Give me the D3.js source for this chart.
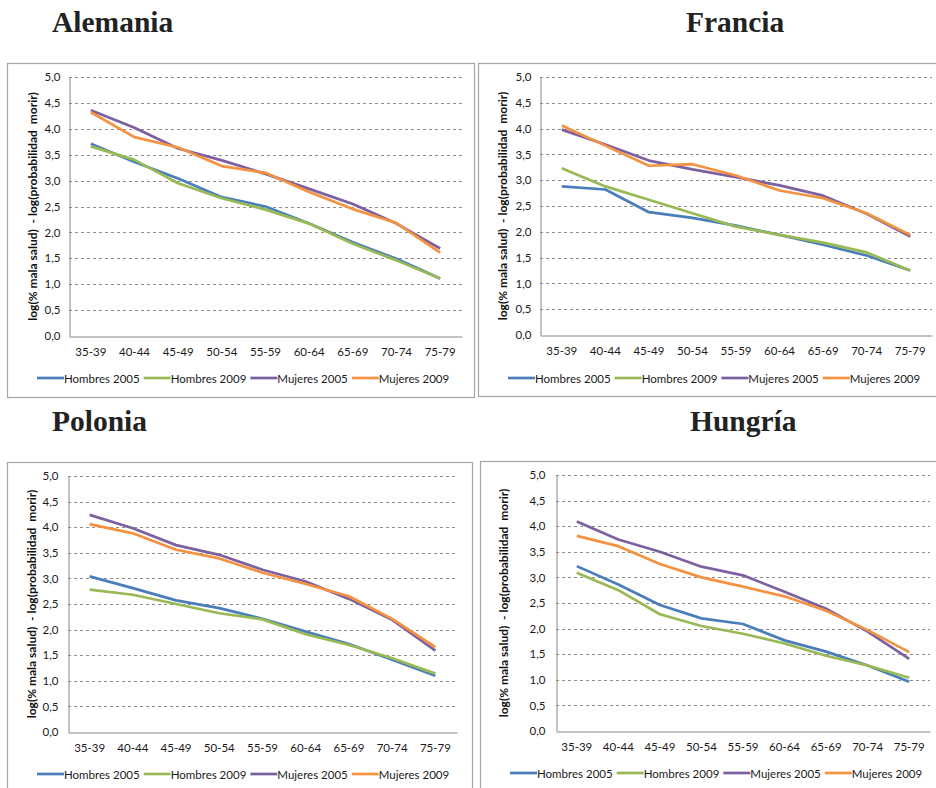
<!DOCTYPE html>
<html>
<head>
<meta charset="utf-8">
<script src="https://cdn.jsdelivr.net/npm/d3@7"></script>
<style>
  body { margin: 0; background: #fff; }
  svg { display: block; }
</style>
</head>
<body>
<svg id="chart" width="936" height="788"></svg>
<script>
// ---------------- DATA ----------------
const categories = ["35-39", "40-44", "45-49", "50-54", "55-59", "60-64", "65-69", "70-74", "75-79"];
const seriesNames = ["Hombres 2005", "Hombres 2009", "Mujeres 2005", "Mujeres 2009"];
const yTicks = [0, 0.5, 1, 1.5, 2, 2.5, 3, 3.5, 4, 4.5, 5];
const countries = ["Alemania", "Francia", "Polonia", "Hungría"];
const yAxisTitle = "log(% mala salud)  - log(probabilidad  morir)";

const alemaniaHombres2005 = [3.71, 3.36, 3.04, 2.68, 2.50, 2.17, 1.81, 1.49, 1.11];
const alemaniaHombres2009 = [3.66, 3.40, 2.95, 2.66, 2.44, 2.17, 1.78, 1.46, 1.11];
const alemaniaMujeres2005 = [4.36, 4.02, 3.62, 3.39, 3.13, 2.84, 2.55, 2.17, 1.69];
const alemaniaMujeres2009 = [4.32, 3.84, 3.64, 3.28, 3.15, 2.78, 2.45, 2.18, 1.61];

const franciaHombres2005 = [2.88, 2.82, 2.38, 2.27, 2.12, 1.94, 1.75, 1.54, 1.25];
const franciaHombres2009 = [3.23, 2.88, 2.62, 2.36, 2.10, 1.94, 1.79, 1.60, 1.25];
const franciaMujeres2005 = [3.98, 3.69, 3.38, 3.21, 3.06, 2.90, 2.70, 2.35, 1.91];
const franciaMujeres2009 = [4.06, 3.67, 3.28, 3.31, 3.09, 2.80, 2.65, 2.36, 1.94];

const poloniaHombres2005 = [3.04, 2.81, 2.57, 2.42, 2.21, 1.96, 1.72, 1.41, 1.10];
const poloniaHombres2009 = [2.78, 2.68, 2.50, 2.32, 2.20, 1.91, 1.70, 1.44, 1.14];
const poloniaMujeres2005 = [4.24, 3.98, 3.65, 3.46, 3.17, 2.94, 2.60, 2.19, 1.59];
const poloniaMujeres2009 = [4.06, 3.88, 3.56, 3.39, 3.11, 2.89, 2.65, 2.21, 1.66];

const hungriaHombres2005 = [3.22, 2.86, 2.46, 2.20, 2.09, 1.77, 1.55, 1.28, 0.96];
const hungriaHombres2009 = [3.09, 2.75, 2.28, 2.05, 1.90, 1.71, 1.47, 1.28, 1.04];
const hungriaMujeres2005 = [4.09, 3.74, 3.50, 3.21, 3.04, 2.72, 2.39, 1.94, 1.41];
const hungriaMujeres2009 = [3.81, 3.61, 3.26, 3.00, 2.82, 2.63, 2.35, 1.97, 1.54];

// ---------------- STYLE / LAYOUT ----------------
const colors = ["#4A7EBB", "#98B954", "#7D60A0", "#F59240"];
const countrySeries = [
  [alemaniaHombres2005, alemaniaHombres2009, alemaniaMujeres2005, alemaniaMujeres2009],
  [franciaHombres2005, franciaHombres2009, franciaMujeres2005, franciaMujeres2009],
  [poloniaHombres2005, poloniaHombres2009, poloniaMujeres2005, poloniaMujeres2009],
  [hungriaHombres2005, hungriaHombres2009, hungriaMujeres2005, hungriaMujeres2009]
];
const layouts = [
  {box: [7, 63, 467, 334], plot: [69, 462, 77, 336], tickX: 60, ylabX: 32, xlabY: 353, legY: 378, legX: 37, title: [52, 32]},
  {box: [478, 63, 460, 333], plot: [540, 932, 77, 335], tickX: 531, ylabX: 502, xlabY: 352, legY: 378, legX: 508, title: [686, 32]},
  {box: [7, 462, 465, 340], plot: [68, 457, 476, 732], tickX: 58, ylabX: 31, xlabY: 749, legY: 774, legX: 37, title: [52, 431]},
  {box: [480, 461, 470, 340], plot: [556, 930, 475, 731], tickX: 545, ylabX: 503, xlabY: 748, legY: 773, legX: 510, title: [690, 431]}
];

const svg = d3.select("#chart");
const font = 'Lato, "Open Sans", sans-serif';

countries.forEach((name, ci) => {
  const L = layouts[ci];
  const g = svg.append("g");

  // title
  g.append("text")
    .attr("x", L.title[0]).attr("y", L.title[1])
    .attr("font-family", '"Liberation Serif", "Times New Roman", serif')
    .attr("font-weight", "bold").attr("font-size", 29.5).attr("fill", "#222")
    .text(name);

  // chart border
  g.append("rect")
    .attr("x", L.box[0] + 0.5).attr("y", L.box[1] + 0.5)
    .attr("width", L.box[2]).attr("height", L.box[3])
    .attr("fill", "none").attr("stroke", "#A6A6A6").attr("stroke-width", 1.2);

  const x = d3.scaleBand().domain(categories).range([L.plot[0], L.plot[1]]);
  const y = d3.scaleLinear().domain([0, 5]).range([L.plot[3], L.plot[2]]);

  // gridlines
  g.append("g").selectAll("line").data(yTicks.filter(t => t > 0)).join("line")
    .attr("x1", L.plot[0]).attr("x2", L.plot[1])
    .attr("y1", d => Math.round(y(d)) + 0.5).attr("y2", d => Math.round(y(d)) + 0.5)
    .attr("stroke", "#8C8C8C").attr("stroke-width", 1).attr("stroke-dasharray", "3,3");

  // y axis
  const yAxis = d3.axisLeft(y).tickValues(yTicks).tickSize(0).tickPadding(L.plot[0] - L.tickX)
    .tickFormat(d => d3.format(".1f")(d).replace(".", ","));
  const ya = g.append("g").attr("transform", `translate(${L.plot[0] + 0.5},0)`).call(yAxis);
  ya.select(".domain").attr("stroke", "#868686");
  ya.selectAll("text").attr("font-size", 11.5).attr("fill", "#1a1a1a").attr("font-family", font);

  // x axis
  const xAxis = d3.axisBottom(x).tickSize(0).tickPadding(L.xlabY - L.plot[3] - 6);
  const xa = g.append("g").attr("transform", `translate(0,${L.plot[3] + 0.5})`).call(xAxis);
  xa.select(".domain").attr("stroke", "#868686");
  xa.selectAll("text").attr("font-size", 11.5).attr("fill", "#1a1a1a").attr("font-family", font);

  // y axis title
  g.append("text")
    .attr("transform", `translate(${L.ylabX},${(L.plot[2] + L.plot[3]) / 2}) rotate(-90)`)
    .attr("text-anchor", "middle").attr("dominant-baseline", "central")
    .attr("font-family", font).attr("font-weight", "bold").attr("font-size", 12)
    .attr("fill", "#111").style("white-space", "pre")
    .text(yAxisTitle);

  // lines
  const line = d3.line().x((d, i) => x(categories[i]) + x.bandwidth() / 2).y(d => y(d));
  countrySeries[ci].forEach((vals, si) => {
    g.append("path").datum(vals)
      .attr("d", line).attr("fill", "none")
      .attr("stroke", colors[si]).attr("stroke-width", 2.7)
      .attr("stroke-linejoin", "round").attr("stroke-linecap", "butt");
  });

  // legend
  let lx = L.legX;
  seriesNames.forEach((s, si) => {
    g.append("line")
      .attr("x1", lx).attr("x2", lx + 27)
      .attr("y1", L.legY).attr("y2", L.legY)
      .attr("stroke", colors[si]).attr("stroke-width", 2.7);
    const t = g.append("text")
      .attr("x", lx + 27).attr("y", L.legY)
      .attr("dominant-baseline", "central")
      .attr("font-family", font).attr("font-size", 11.5).attr("fill", "#1a1a1a")
      .text(s);
    lx += 27 + t.node().getComputedTextLength() + 4;
  });
});
</script>
</body>
</html>
